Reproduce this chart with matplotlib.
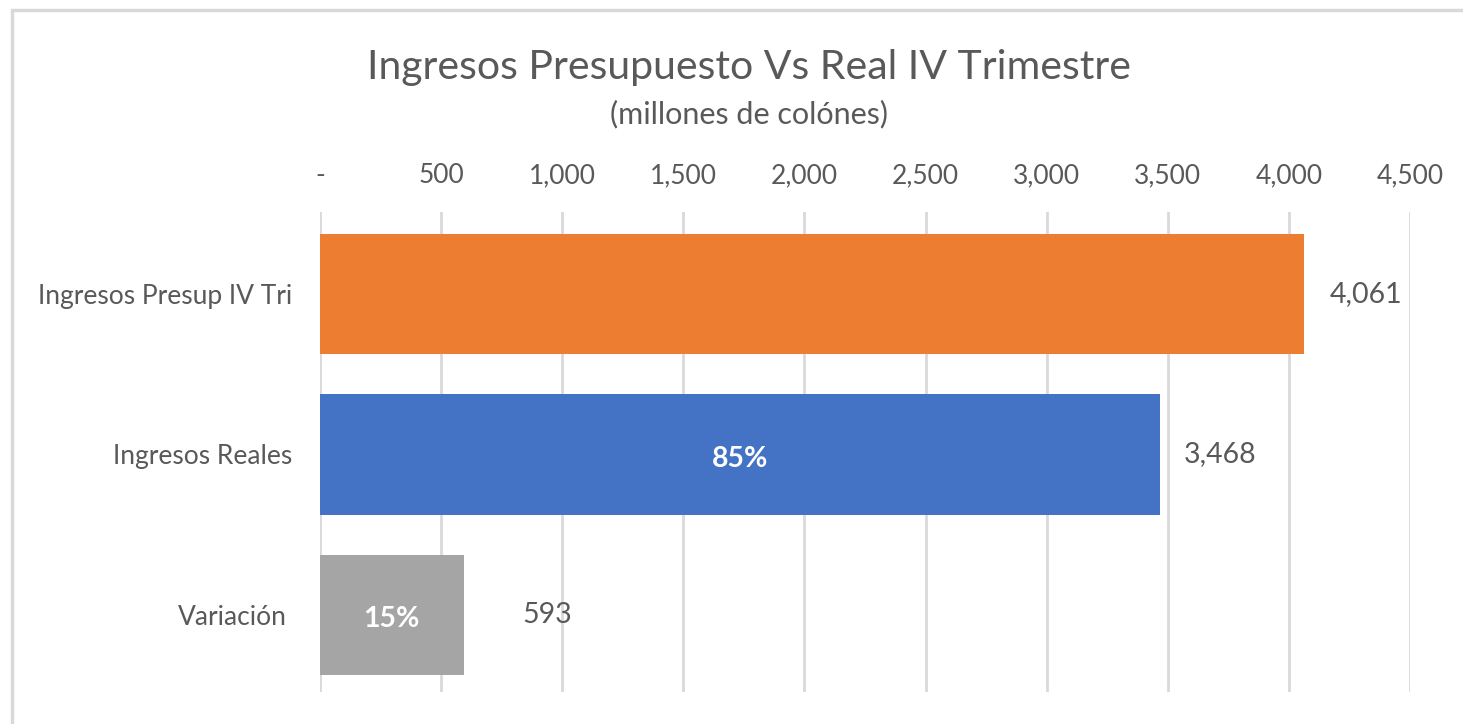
import matplotlib.pyplot as plt
from matplotlib.patches import Rectangle
from matplotlib.ticker import FuncFormatter

# Data
categories = ["Ingresos Presup IV Tri", "Ingresos Reales", "Variación"]
values = [4061, 3468, 593]
shares = [None, "85%", "15%"]
colors = ["#ED7D31", "#4472C4", "#A5A5A5"]
ticks = [0, 500, 1000, 1500, 2000, 2500, 3000, 3500, 4000, 4500]

plt.rcParams['font.family'] = ['Lato', 'DejaVu Sans']
txt = "#595959"

fig = plt.figure(figsize=(14.63, 7.24), dpi=100)
ax = fig.add_axes([0.2187, 0.0442, 0.7451, 0.663])

# thin grey frame of the chart area
fig.patches.append(Rectangle((12 / 1463, -0.01), 1.02, 1 - 10 / 724 + 0.01,
                             transform=fig.transFigure, fill=False,
                             edgecolor="#d9d9d9", linewidth=2.5))

pos = list(range(len(categories)))
ax.barh(pos, values, height=0.75, color=colors, zorder=3)
ax.set_ylim(2.48, -0.51)
ax.set_xlim(0, 4500)

ax.set_xticks(ticks)
ax.xaxis.set_major_formatter(FuncFormatter(lambda v, p: "-" if v == 0 else f"{v:,.0f}"))
ax.xaxis.tick_top()
ax.tick_params(axis="x", length=0, pad=17, labelsize=19, labelcolor=txt)
ax.set_yticks(pos)
ax.set_yticklabels(categories)
ax.tick_params(axis="y", length=0, pad=20, labelsize=19, labelcolor=txt)
ax.get_yticklabels()[2].set_x(-0.005)
ax.grid(axis="x", color="#d9d9d9", linewidth=2, zorder=0)
for s in ax.spines.values():
    s.set_visible(False)

# value labels
offsets = [19, 17, 42]
for i, v in enumerate(values):
    ax.annotate(f"{v:,}", (v, i), xytext=(offsets[i], 0), textcoords="offset points",
                va="center", ha="left", fontsize=20.5, color=txt)
    if shares[i]:
        ax.annotate(shares[i], (v / 2, i), xytext=(0, -3), textcoords="offset points",
                    va="center", ha="center", fontsize=20.5,
                    color="white", fontweight="bold")

fig.text(0.512, 0.907, "Ingresos Presupuesto Vs Real IV Trimestre", ha="center",
         va="center", fontsize=29.5, color=txt)
fig.text(0.512, 0.843, "(millones de colónes)", ha="center", va="center",
         fontsize=22, color=txt)

fig.savefig("out.png", dpi=100)
